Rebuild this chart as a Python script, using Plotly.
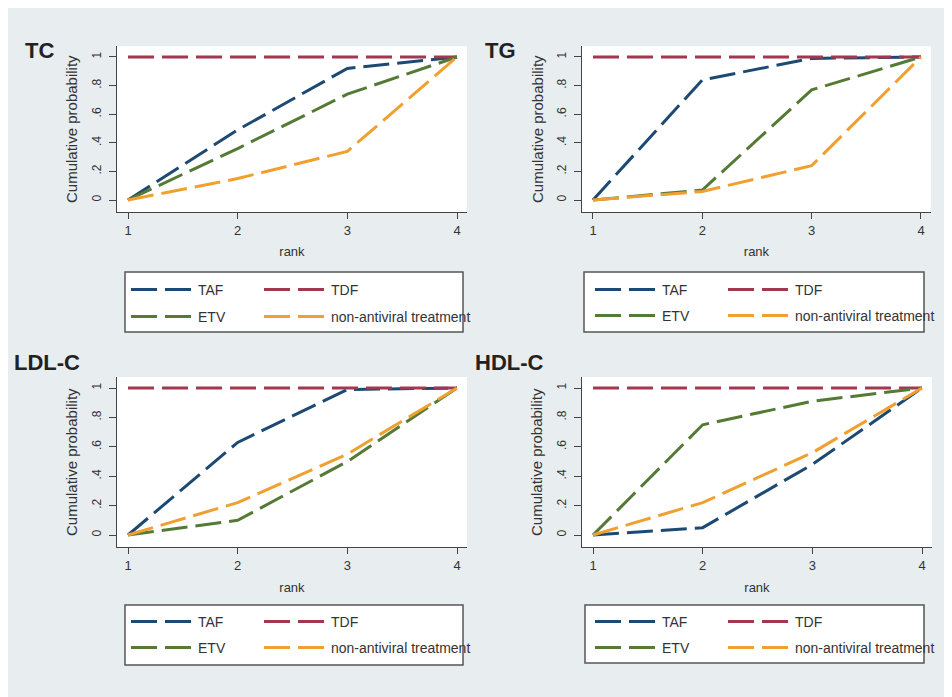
import plotly.graph_objects as go

# ---------------- data ----------------
ranks = [1, 2, 3, 4]
series_names = ["TAF", "TDF", "ETV", "non-antiviral treatment"]

TC_TAF = [0, 0.49, 0.92, 1]
TC_TDF = [1, 1, 1, 1]
TC_ETV = [0, 0.36, 0.74, 1]
TC_NON = [0, 0.15, 0.34, 1]

TG_TAF = [0, 0.84, 0.99, 1]
TG_TDF = [1, 1, 1, 1]
TG_ETV = [0, 0.07, 0.77, 1]
TG_NON = [0, 0.06, 0.24, 1]

LDL_TAF = [0, 0.63, 0.99, 1]
LDL_TDF = [1, 1, 1, 1]
LDL_ETV = [0, 0.10, 0.50, 1]
LDL_NON = [0, 0.22, 0.55, 1]

HDL_TAF = [0, 0.05, 0.48, 1]
HDL_TDF = [1, 1, 1, 1]
HDL_ETV = [0, 0.75, 0.91, 1]
HDL_NON = [0, 0.22, 0.56, 1]

panel_titles = ["TC", "TG", "LDL-C", "HDL-C"]
panel_data = [
    [TC_TAF, TC_TDF, TC_ETV, TC_NON],
    [TG_TAF, TG_TDF, TG_ETV, TG_NON],
    [LDL_TAF, LDL_TDF, LDL_ETV, LDL_NON],
    [HDL_TAF, HDL_TDF, HDL_ETV, HDL_NON],
]
y_tickvals = [0, 0.2, 0.4, 0.6, 0.8, 1]
y_ticktext = ["0", ".2", ".4", ".6", ".8", "1"]
x_ticktext = ["1", "2", "3", "4"]

# ---------------- styling / layout ----------------
W, H = 952, 697
OFF = 8  # page body margin offset
colors = ["#1d4a72", "#a3374f", "#557a35", "#f0a030"]
DASH = "26px,8px"
XR = [0.9, 4.09]
YR = [-0.085, 1.075]

# screen-pixel anchors per panel: (x of rank1, x of rank4, y of 0, y of 1)
anchors = [
    (128, 457, 200, 57),
    (593, 921, 200, 57),
    (128, 457, 535, 388),
    (593, 922, 535, 388),
]
title_pos = [(39, 50), (500, 51), (47, 362), (509, 362)]
legend_boxes = [(125, 272, 463, 332), (584, 272, 924, 332),
                (125, 605, 463, 665), (585, 605, 924, 663)]
legend_rows = [(290, 317), (290, 316), (622, 648), (622, 648)]
legend_x0 = [132, 596, 132, 596]


def fx(px):
    return (px - OFF) / W


def fy(py):
    return 1 - (py - OFF) / H


fig = go.Figure()
layout = dict(
    width=W, height=H, margin=dict(l=0, r=0, t=0, b=0, autoexpand=False),
    paper_bgcolor="#e8edf0", plot_bgcolor="#ffffff",
    font=dict(family="Liberation Sans, Arial, sans-serif", color="#333333"),
    showlegend=True,
)
shapes = []
annotations = []

for p in range(4):
    x1p, x4p, y0p, y1p = anchors[p]
    sx = (x4p - x1p) / 3.0
    sy = (y0p - y1p) / 1.0
    left = x1p - (1 - XR[0]) * sx
    right = x4p + (XR[1] - 4) * sx
    bottom = y0p + (0 - YR[0]) * sy
    top = y1p - (YR[1] - 1) * sy
    xa = "xaxis" if p == 0 else f"xaxis{p+1}"
    ya = "yaxis" if p == 0 else f"yaxis{p+1}"
    xref = "x" if p == 0 else f"x{p+1}"
    yref = "y" if p == 0 else f"y{p+1}"
    layout[xa] = dict(
        domain=[fx(left), fx(right)], range=XR, anchor=yref,
        tickvals=ranks, ticktext=x_ticktext, ticks="outside", ticklen=6,
        tickcolor="#444", showline=True, linecolor="#444", linewidth=1,
        showgrid=False, zeroline=False, tickfont=dict(size=13, color="#333"),
        title=dict(text="rank", font=dict(size=13, color="#333"), standoff=10),
    )
    layout[ya] = dict(
        domain=[fy(bottom), fy(top)], range=YR, anchor=xref,
        tickvals=y_tickvals, ticktext=y_ticktext, ticks="outside", ticklen=7,
        tickangle=-90, tickcolor="#444", showline=True, linecolor="#444",
        linewidth=1, showgrid=False, zeroline=False,
        tickfont=dict(size=12, color="#333"), ticklabelstandoff=3,
        title=dict(text="Cumulative probability", font=dict(size=15, color="#333"),
                   standoff=8),
    )
    leg1 = f"legend{2*p+1}" if p > 0 else "legend"
    leg2 = f"legend{2*p+2}"
    for i, name in enumerate(series_names):
        fig.add_trace(go.Scatter(
            x=ranks, y=panel_data[p][i], mode="lines", name=name,
            line=dict(color=colors[i], width=3, dash=DASH),
            xaxis=xref, yaxis=yref,
            legend=leg1 if i < 2 else leg2,
            legendwidth=56 if i in (0, 2) else 200,
            showlegend=True, hoverinfo="skip",
        ))
    r1, r2 = legend_rows[p]
    for lg, ry in ((leg1, r1), (leg2, r2)):
        layout[lg] = dict(
            orientation="h", x=fx(legend_x0[p] - 6), y=fy(ry),
            xanchor="left", yanchor="middle", bgcolor="rgba(0,0,0,0)",
            borderwidth=0, font=dict(size=14, color="#333"),
            itemwidth=62, entrywidthmode="pixels",
            itemclick=False, itemdoubleclick=False,
        )
    bx0, by0, bx1, by1 = legend_boxes[p]
    shapes.append(dict(type="rect", xref="paper", yref="paper",
                       x0=fx(bx0), x1=fx(bx1), y0=fy(by1), y1=fy(by0),
                       fillcolor="#ffffff", line=dict(color="#555555", width=1.5),
                       layer="below"))
    tx, ty = title_pos[p]
    annotations.append(dict(text="<b>" + panel_titles[p] + "</b>", xref="paper",
                            yref="paper", x=fx(tx), y=fy(ty), xanchor="center",
                            yanchor="middle", showarrow=False,
                            font=dict(size=22, color="#222222")))

layout["shapes"] = shapes
layout["annotations"] = annotations
fig.update_layout(**layout)
fig.write_html("out.html")
